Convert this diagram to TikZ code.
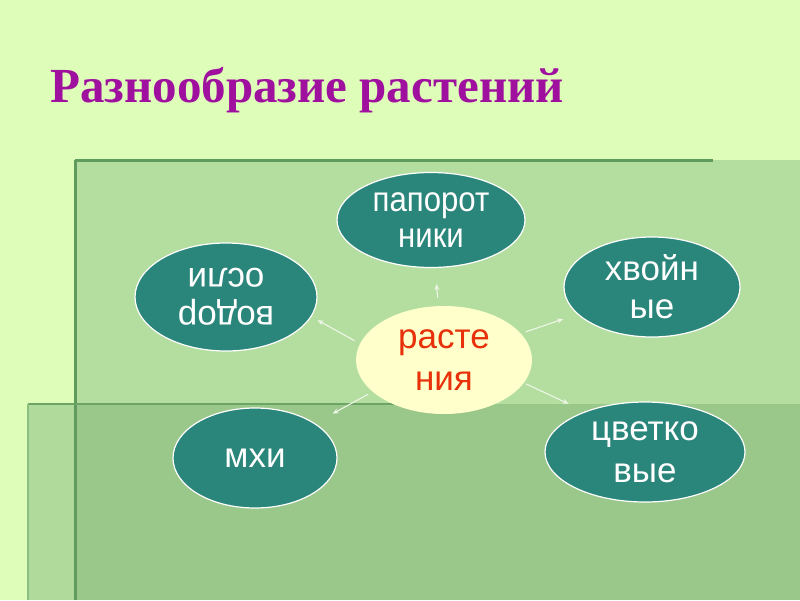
\documentclass[tikz,border=0pt]{standalone}
\usepackage{fontspec}
\setmainfont{Liberation Serif}
\newfontfamily\arial{Liberation Sans}
\newfontfamily\arialn[FakeStretch=0.89]{Liberation Sans}
\usetikzlibrary{shapes.geometric,arrows.meta}
\definecolor{bgc}{HTML}{DDFDB9}
\definecolor{upc}{HTML}{B4DEA0}
\definecolor{lowc}{HTML}{9AC78A}
\definecolor{stripc}{HTML}{B0DA9C}
\definecolor{darkc}{HTML}{5F9B5C}
\definecolor{tealc}{HTML}{2A857A}
\definecolor{creamc}{HTML}{FFFFCC}
\definecolor{titlec}{HTML}{A0109E}
\definecolor{redc}{HTML}{E8300A}
\definecolor{arrc}{HTML}{EEF6E6}
\tikzset{
  oval/.style={ellipse, draw=white, line width=1.2pt, fill=tealc, inner sep=0pt,
    text=white, align=center, font=\arial\fontsize{35}{40}\selectfont},
  centeroval/.style={ellipse, draw=none, fill=creamc, inner sep=0pt,
    text=redc, align=center, font=\arial\fontsize{35}{42}\selectfont},
  conn/.style={draw=arrc, line width=1.1pt, -{Stealth[length=6pt,width=5pt]}},
}
\begin{document}
\begin{tikzpicture}[x=1pt,y=-1pt]
\useasboundingbox (0,0) rectangle (800,600);
% background
\fill[bgc] (0,0) rectangle (800,600);
% upper panel
\fill[upc] (75,160) rectangle (800,600);
% lower panel
\fill[stripc] (28,404) rectangle (75,600);
\fill[lowc] (75,404) rectangle (800,600);
\draw[darkc, line width=3pt] (75,160) -- (713,160);
\draw[darkc, line width=3pt] (75,160) -- (75,600);
\draw[darkc!80!lowc, line width=2.5pt] (28,404) -- (430,404);
\draw[darkc!45!stripc, line width=1.5pt] (28,404) -- (28,600);
% title
\node[anchor=base west, inner sep=0pt, text=titlec, font=\bfseries\fontsize{49}{52}\selectfont] (title) at (50,102) {Разнообразие растений};
% ellipses
\node[oval, minimum width=188pt, minimum height=95pt, font=\arialn\fontsize{35}{36}\selectfont] (p) at (431,220) {папорот\\ники};
\node[oval, minimum width=182pt, minimum height=108pt, rotate=180, font=\arial\fontsize{35}{38}\selectfont] (w) at (226,297) {водор\\осли};
\node[oval, minimum width=176pt, minimum height=100pt, font=\arial\fontsize{35}{38}\selectfont] (h) at (652,287) {хвойн\\ые};
\node[oval, minimum width=164pt, minimum height=100pt] (m) at (255,458) {мхи};
\node[oval, minimum width=200pt, minimum height=100pt, font=\arial\fontsize{35}{42}\selectfont] (f) at (645,452) {цветко\\вые};
\node[centeroval, minimum width=176pt, minimum height=108pt] (c) at (444,360) {расте\\ния};
% connectors
\draw[conn, shorten <=8pt, shorten >=16pt] (c.96) -- (p.-85);
\draw[conn, shorten <=6pt, shorten >=7pt] (c.169) -- (w.167);
\draw[conn, shorten <=5pt, shorten >=15pt] (c.19) -- (h.-160);
\draw[conn, shorten <=5pt, shorten >=20pt] (c.-156) -- (m.30);
\draw[conn, shorten <=2pt, shorten >=18pt] (c.-16) -- (f.146);
\end{tikzpicture}
\end{document}
